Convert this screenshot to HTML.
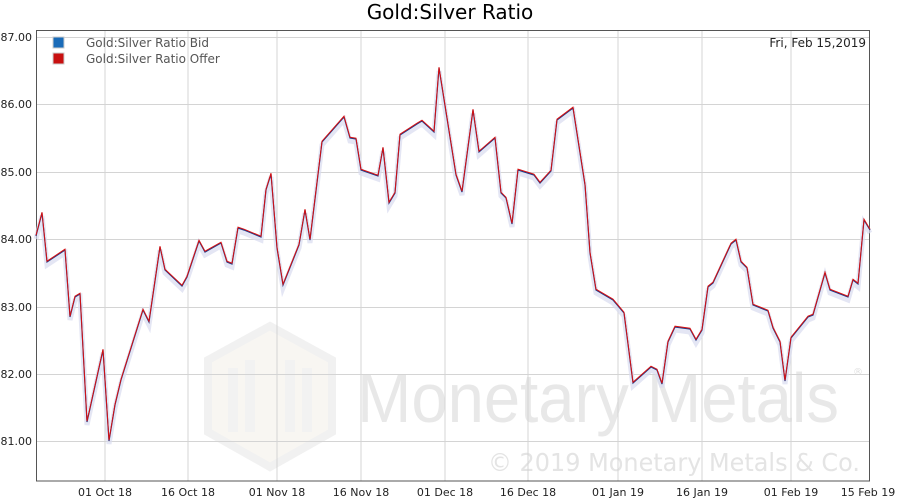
<!DOCTYPE html>
<html><head><style>
body{margin:0;background:#fff;width:900px;height:500px;overflow:hidden;font-family:"DejaVu Sans","Liberation Sans",sans-serif}
</style></head><body>
<svg width="900" height="500" xmlns="http://www.w3.org/2000/svg" font-family="DejaVu Sans, Liberation Sans, sans-serif">
<text x="450" y="19" font-size="20" text-anchor="middle" fill="#000">Gold:Silver Ratio</text>
<g opacity="0.5">
<polygon points="270,326 332,360 332,432 270,467 208,432 208,360" fill="#f3efe6" stroke="#e4e4e4" stroke-width="8"/>
<rect x="228" y="368" width="10" height="64" fill="#e6e6e6"/><rect x="245" y="360" width="10" height="72" fill="#e6e6e6"/><rect x="285" y="360" width="10" height="72" fill="#e6e6e6"/><rect x="302" y="368" width="10" height="64" fill="#e6e6e6"/>
</g>
<text x="357" y="422" font-size="70" fill="#e8e8e8" font-family="Liberation Sans, sans-serif" textLength="482" lengthAdjust="spacingAndGlyphs">Monetary Metals</text>
<text x="853" y="375" font-size="10" fill="#e0e0e0">®</text>
<text x="488" y="471" font-size="25" fill="#e4e4e4" textLength="372" lengthAdjust="spacingAndGlyphs">© 2019 Monetary Metals &amp; Co.</text>
<g stroke="#d4d4d4" stroke-width="1">
<line x1="36" x2="870" y1="37.5" y2="37.5"/><line x1="36" x2="870" y1="104.5" y2="104.5"/><line x1="36" x2="870" y1="172.5" y2="172.5"/><line x1="36" x2="870" y1="239.5" y2="239.5"/><line x1="36" x2="870" y1="307.5" y2="307.5"/><line x1="36" x2="870" y1="374.5" y2="374.5"/><line x1="36" x2="870" y1="441.5" y2="441.5"/>
<line x1="105" x2="105" y1="30" y2="481"/><line x1="188" x2="188" y1="30" y2="481"/><line x1="277" x2="277" y1="30" y2="481"/><line x1="361" x2="361" y1="30" y2="481"/><line x1="445" x2="445" y1="30" y2="481"/><line x1="528" x2="528" y1="30" y2="481"/><line x1="618" x2="618" y1="30" y2="481"/><line x1="702" x2="702" y1="30" y2="481"/><line x1="791" x2="791" y1="30" y2="481"/>
</g>
<rect x="36.5" y="30.5" width="833" height="450.5" fill="none" stroke="#555" stroke-width="1"/>
<g font-size="11" fill="#222" text-anchor="end">
<text x="32" y="41">87.00</text><text x="32" y="108">86.00</text><text x="32" y="176">85.00</text><text x="32" y="243">84.00</text><text x="32" y="311">83.00</text><text x="32" y="378">82.00</text><text x="32" y="445">81.00</text>
</g>
<g font-size="11" fill="#222" text-anchor="middle">
<text x="105" y="496">01 Oct 18</text><text x="188" y="496">16 Oct 18</text><text x="277" y="496">01 Nov 18</text><text x="361" y="496">16 Nov 18</text><text x="445" y="496">01 Dec 18</text><text x="528" y="496">16 Dec 18</text><text x="618" y="496">01 Jan 19</text><text x="702" y="496">16 Jan 19</text><text x="791" y="496">01 Feb 19</text><text x="868" y="496">15 Feb 19</text>
</g>
<rect x="53" y="37" width="11" height="11" fill="#1a6bb8" stroke="#ccc"/>
<rect x="53" y="53" width="11" height="11" fill="#c81010" stroke="#ccc"/>
<text x="86" y="47" font-size="12" fill="#555">Gold:Silver Ratio Bid</text>
<text x="86" y="63" font-size="12" fill="#555">Gold:Silver Ratio Offer</text>
<text x="866" y="47" font-size="12" fill="#222" text-anchor="end">Fri, Feb 15,2019</text>
<defs><polyline id="d" points="36,236 42,213 47,262 65,250 70,317 75,297 80,294 87,422 103,350 109,441 115,405 121,380 143,310 149,322 160,247 165,270 182,286 187,277 199,241 205,252 221,243 227,262 232,264 238,228 244,230 261,237 266,190 271,174 277,248 283,285 299,245 305,210 310,240 322,142 344,117 350,138 356,139 361,170 378,176 383,148 389,203 395,193 400,135 417,124 422,121 434,132 439,68 456,175 462,192 473,110 479,152 495,138 501,193 506,198 512,224 518,170 534,175 540,183 551,171 557,120 573,108 585,185 590,253 596,290 613,300 624,313 633,383 651,367 657,370 662,384 668,342 675,327 690,329 696,340 702,330 708,287 713,283 731,244 736,240 741,262 747,268 753,305 768,311 773,328 780,342 785,381 791,338 808,317 813,315 825,273 830,290 848,297 853,280 858,284 864,220 870,230" fill="none"/></defs>
<use href="#d" stroke="#d8dbef" stroke-width="5" transform="translate(0,3)" opacity="0.7"/>
<use href="#d" stroke="#1a3a8a" stroke-width="1.2"/>
<use href="#d" stroke="#d81010" stroke-width="1" transform="translate(0,-0.8)"/>
</svg>
</body></html>
